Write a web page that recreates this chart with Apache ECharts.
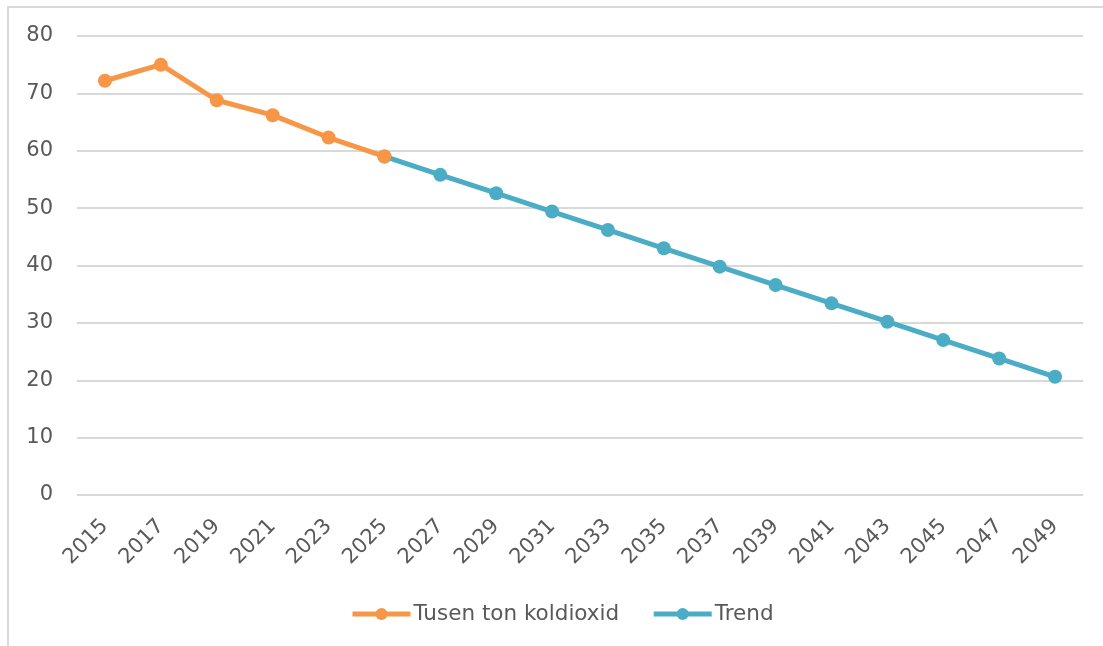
<!DOCTYPE html>
<html>
<head>
<meta charset="utf-8">
<script src="https://cdn.jsdelivr.net/npm/echarts@6/dist/echarts.min.js"></script>
<style>
  html, body { margin: 0; padding: 0; background: #fff; overflow: hidden; }
  #main { width: 1103px; height: 646px; position: relative; }
  #frame { position: absolute; left: 7px; top: 6px; width: 1200px; height: 800px;
           border: 2px solid #d9d9d9; pointer-events: none; }
</style>
</head>
<body>
<div id="main"></div>
<div id="frame"></div>
<script>
// years on the x axis
var years = ['2015','2017','2019','2021','2023','2025','2027','2029','2031','2033',
             '2035','2037','2039','2041','2043','2045','2047','2049'];
// measured emissions (thousand tonnes CO2)
var actual = [72.2, 75.0, 68.8, 66.2, 62.3, 59.0, null, null, null, null,
              null, null, null, null, null, null, null, null];
// linear trend from 2025
var trend = [null, null, null, null, null, 59.0, 55.8, 52.6, 49.4, 46.2,
             43.0, 39.8, 36.6, 33.4, 30.2, 27.0, 23.8, 20.6];

var textColor = '#595959';
var fontFam = '"DejaVu Sans", sans-serif';

var chart = echarts.init(document.getElementById('main'));
chart.setOption({
  animation: false,
  grid: { left: 77, right: 20, top: 36, bottom: 151 },
  legend: {
    bottom: 16,
    left: 345,
    itemWidth: 58,
    itemHeight: 15,
    itemGap: 32,
    lineStyle: { width: 5 },
    textStyle: { color: textColor, fontSize: 21.5, fontFamily: fontFam, padding: [0, 0, 0, -2] },
    data: ['Tusen ton koldioxid', 'Trend']
  },
  xAxis: {
    type: 'category',
    data: years,
    boundaryGap: true,
    axisLine: { show: false },
    axisTick: { show: false },
    axisLabel: {
      rotate: 45,
      color: textColor,
      fontSize: 21,
      fontFamily: fontFam,
      margin: 28,
      interval: 0
    }
  },
  yAxis: {
    type: 'value',
    min: 0,
    max: 80,
    interval: 10,
    axisLine: { show: false },
    axisTick: { show: false },
    axisLabel: { color: textColor, fontSize: 21, fontFamily: fontFam, margin: 24 },
    splitLine: { lineStyle: { color: '#d9d9d9', width: 2 } }
  },
  series: [
    {
      name: 'Tusen ton koldioxid',
      type: 'line',
      data: actual,
      symbol: 'circle',
      symbolSize: 14,
      lineStyle: { width: 5, color: '#F79646' },
      itemStyle: { color: '#F79646' },
      z: 3
    },
    {
      name: 'Trend',
      type: 'line',
      data: trend,
      symbol: 'circle',
      symbolSize: 14,
      lineStyle: { width: 5, color: '#4BACC6' },
      itemStyle: { color: '#4BACC6' },
      z: 2
    }
  ]
});
</script>
</body>
</html>
